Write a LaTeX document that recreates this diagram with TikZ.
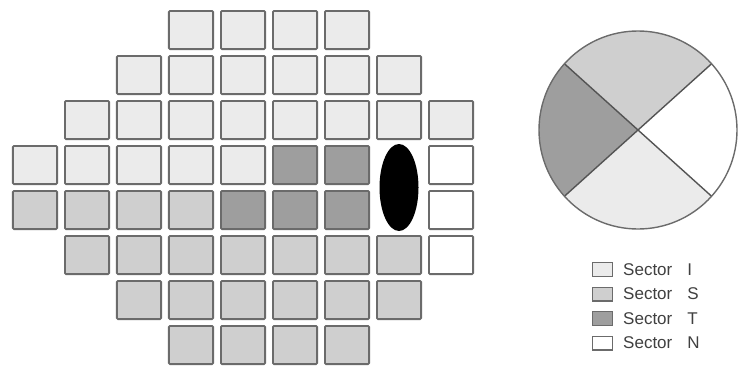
\documentclass[tikz,border=0pt]{standalone}
\usepackage{fontspec}
\setmainfont{Liberation Sans}
\usetikzlibrary{matrix, shapes.geometric, positioning, calc}
\definecolor{secI}{gray}{0.92}
\definecolor{secS}{gray}{0.81}
\definecolor{secT}{gray}{0.62}
\definecolor{secN}{gray}{1}
\definecolor{rim}{gray}{0.42}
\definecolor{spoke}{gray}{0.33}

\begin{document}
\begin{tikzpicture}[x=1pt, y=-1pt, font=\fontsize{17}{19}\selectfont,
    box/.style={draw=rim, line width=1.8pt, rounded corners=1pt, minimum width=44.2pt, minimum height=38.2pt, inner sep=0pt},
    i/.style={box, fill=secI}, s/.style={box, fill=secS},
    t/.style={box, fill=secT}, n/.style={box, fill=secN},
    key/.style={draw=rim, line width=1.3pt, minimum width=19.7pt, minimum height=13.7pt, inner sep=0pt},
    keytext/.style={inner sep=0pt, text=black!75}]
    \useasboundingbox (0,0) rectangle (738,370);
    % test grid
    \matrix (h) [matrix of nodes, column sep=6pt, row sep=5pt, anchor=center] at (243,187.5) {
          &       &       & |[i]| & |[i]| & |[i]| & |[i]| &       &       \\
          &       & |[i]| & |[i]| & |[i]| & |[i]| & |[i]| & |[i]| &       \\
          & |[i]| & |[i]| & |[i]| & |[i]| & |[i]| & |[i]| & |[i]| & |[i]| \\
    |[i]| & |[i]| & |[i]| & |[i]| & |[i]| & |[t]| & |[t]| &       & |[n]| \\
    |[s]| & |[s]| & |[s]| & |[s]| & |[t]| & |[t]| & |[t]| &       & |[n]| \\
          & |[s]| & |[s]| & |[s]| & |[s]| & |[s]| & |[s]| & |[s]| & |[n]| \\
          &       & |[s]| & |[s]| & |[s]| & |[s]| & |[s]| & |[s]| &       \\
          &       &       & |[s]| & |[s]| & |[s]| & |[s]| &       &       \\
    };
    % blind spot
    \node (disc) [ellipse, fill=black, minimum width=39pt, minimum height=87pt, inner sep=0pt]
        at ($(h-4-7)!.5!(h-5-9)$) {};
    % sector map
    \coordinate (eye) at (638,130);
    \begin{scope}[shift={(eye)}, y=1pt]
        \fill[secS] (0,0) -- (42:99) arc[start angle=42, end angle=138, radius=99] -- cycle;
        \fill[secT] (0,0) -- (138:99) arc[start angle=138, end angle=222, radius=99] -- cycle;
        \fill[secI] (0,0) -- (222:99) arc[start angle=222, end angle=318, radius=99] -- cycle;
        \draw[spoke, line width=1.4pt] (42:99) -- (222:99) (138:99) -- (318:99);
        \draw[rim, line width=1.4pt] (0,0) circle[radius=99];
    \end{scope}
    % legend
    \node (kI) [key, fill=secI] at (602.5,269.5) {};
    \node (kS) [key, fill=secS, below=9.5pt of kI] {};
    \node (kT) [key, fill=secT, below=9.5pt of kS] {};
    \node (kN) [key, fill=secN, below=9.5pt of kT] {};
    \node (lI) [keytext, right=10pt of kI] {Sector\hspace{15pt}I};
    \node (lS) [keytext, right=10pt of kS] {Sector\hspace{15pt}S};
    \node (lT) [keytext, right=10pt of kT] {Sector\hspace{15pt}T};
    \node (lN) [keytext, right=10pt of kN] {Sector\hspace{15pt}N};
\end{tikzpicture}
\end{document}
